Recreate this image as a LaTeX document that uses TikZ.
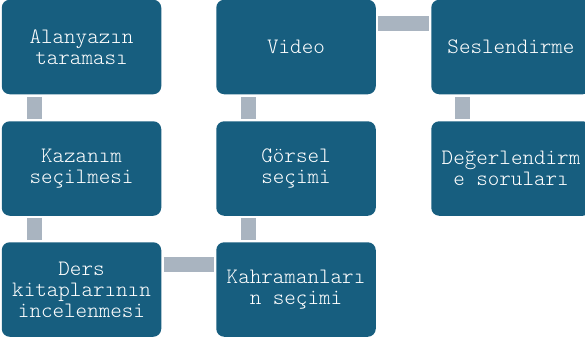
\documentclass[tikz,border=0pt]{standalone}
\usepackage{fontspec}
\newfontfamily\boxfont{Latin Modern Mono Light}
\definecolor{stepblue}{HTML}{175E7F}
\definecolor{linkgrey}{HTML}{A9B4C0}
\begin{document}
\begin{tikzpicture}[x=1pt,y=-1pt,
  stepbox/.style={rectangle,rounded corners=8pt,fill=stepblue,text=white,
    minimum width=159.5pt,minimum height=94.5pt,inner sep=0pt,align=center,
    font=\boxfont\fontsize{22}{21}\selectfont},
  link/.style={draw=linkgrey,line width=15pt,shorten <=2.5pt,shorten >=2.5pt}]
\useasboundingbox (0,0) rectangle (585,340);
\node[stepbox] (tarama) at (81.5,47) {Alanyazın\\taraması};
\node[stepbox] (kazanim) at (81.5,168.5) {Kazanım\\seçilmesi};
\node[stepbox] (kitap) at (81.5,289.5) {Ders\\kitaplarının\\incelenmesi};
\node[stepbox] (kahraman) at (296,289.5) {Kahramanları\\n seçimi};
\node[stepbox] (gorsel) at (296,168.5) {Görsel\\seçimi};
\node[stepbox] (video) at (296,47) {Video};
\node[stepbox] (ses) at (511,47) {Seslendirme};
\node[stepbox] (soru) at (511,168.5) {Değerlendirm\\e soruları};
\draw[link] ([xshift=32.5pt]tarama.south west) -- ([xshift=32.5pt]kazanim.north west);
\draw[link] ([xshift=32.5pt]kazanim.south west) -- ([xshift=32.5pt]kitap.north west);
\draw[link] ([yshift=-22.5pt]kitap.north east) -- ([yshift=-22.5pt]kahraman.north west);
\draw[link] ([xshift=32.5pt]kahraman.north west) -- ([xshift=32.5pt]gorsel.south west);
\draw[link] ([xshift=32.5pt]gorsel.north west) -- ([xshift=32.5pt]video.south west);
\draw[link] ([yshift=-23.5pt]video.north east) -- ([yshift=-23.5pt]ses.north west);
\draw[link] ([xshift=31.5pt]ses.south west) -- ([xshift=31.5pt]soru.north west);
\end{tikzpicture}
\end{document}
